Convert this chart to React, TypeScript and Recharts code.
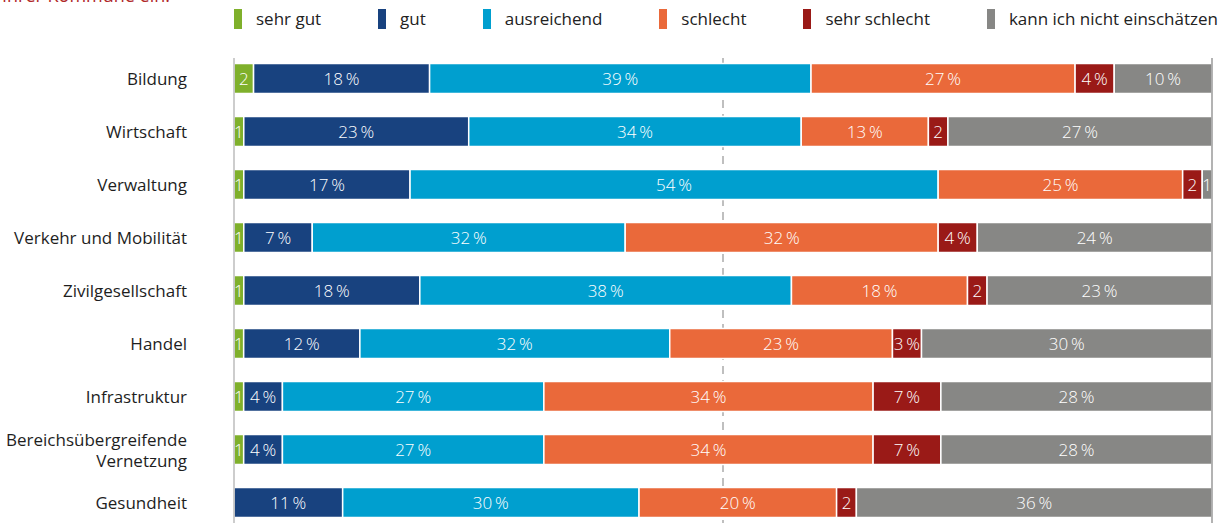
import React from "react";
import { BarChart, Bar, XAxis, YAxis, LabelList, ReferenceLine, CartesianGrid } from "recharts";

const categories = [
  "Bildung",
  "Wirtschaft",
  "Verwaltung",
  "Verkehr und Mobilität",
  "Zivilgesellschaft",
  "Handel",
  "Infrastruktur",
  "Bereichsübergreifende\nVernetzung",
  "Gesundheit",
];

const sehrGut = [2, 1, 1, 1, 1, 1, 1, 1, 0];
const gut = [18, 23, 17, 7, 18, 12, 4, 4, 11];
const ausreichend = [39, 34, 54, 32, 38, 32, 27, 27, 30];
const schlecht = [27, 13, 25, 32, 18, 23, 34, 34, 20];
const sehrSchlecht = [4, 2, 2, 4, 2, 3, 7, 7, 2];
const keineEinschaetzung = [10, 27, 1, 24, 23, 30, 28, 28, 36];

const seriesNames = ["sehr gut", "gut", "ausreichend", "schlecht", "sehr schlecht", "kann ich nicht einschätzen"];
const seriesKeys = ["sg", "g", "a", "s", "ss", "k"];
const seriesValues = [sehrGut, gut, ausreichend, schlecht, sehrSchlecht, keineEinschaetzung];
const seriesColors = ["#7fb02b", "#18427f", "#009fcf", "#ea693a", "#9a1a17", "#878785"];

const midTicks = [0.5];
const titleText = "Ihrer Kommune ein.";

const data = categories.map((c, i) => {
  const row: Record<string, string | number> = { name: c };
  seriesKeys.forEach((k, j) => {
    row[k] = seriesValues[j][i];
  });
  return row;
});

const FONT = "'Open Sans', 'Noto Sans', sans-serif";

const formatLabel = (v: any) => {
  const n = Number(v);
  if (!n) return "";
  if (n < 3) return String(n);
  return `${n}\u2009%`;
};

const CategoryTick = (props: any) => {
  const { x, y, payload } = props;
  const lines = String(payload.value).split("\n");
  const lh = 21;
  const startDy = -((lines.length - 1) * lh) / 2;
  return (
    <text
      x={x - 47}
      y={y}
      textAnchor="end"
      fill="#1e1e1e"
      fontSize={17}
      fontWeight={400}
      fontFamily={FONT}
      dominantBaseline="central"
    >
      {lines.map((l, i) => (
        <tspan key={i} x={x - 47} dy={i === 0 ? startDy : lh}>
          {l}
        </tspan>
      ))}
    </text>
  );
};

const LegendBlock = () => (
  <div
    style={{
      position: "absolute",
      top: 9,
      left: 234,
      display: "flex",
      justifyContent: "space-between",
      width: 984,
      fontFamily: FONT,
      fontSize: 17,
      fontWeight: 400,
      lineHeight: "20px",
      color: "#222",
    }}
  >
    {seriesNames.map((n, i) => (
      <div key={n} style={{ display: "flex", alignItems: "center" }}>
        <span style={{ display: "inline-block", width: 8, height: 20, background: seriesColors[i], marginRight: 14 }} />
        <span>{n}</span>
      </div>
    ))}
  </div>
);

export default function App() {
  return (
    <div
      style={{
        position: "absolute",
        left: 0,
        top: 0,
        width: 1224,
        height: 523,
        overflow: "hidden",
        background: "#fff",
      }}
    >
      <div
        style={{
          position: "absolute",
          left: 2,
          top: -15,
          fontFamily: FONT,
          fontSize: 18,
          lineHeight: "20px",
          color: "#b0282a",
          whiteSpace: "nowrap",
        }}
      >
        {titleText}
      </div>
      <LegendBlock />
      <div style={{ position: "absolute", left: 0, top: 0 }}>
        <BarChart
          width={1224}
          height={540}
          data={data}
          layout="vertical"
          stackOffset="expand"
          margin={{ top: 58, right: 12, bottom: 11.5, left: 0 }}
          barSize={30}
        >
          <CartesianGrid
            horizontal={false}
            vertical={true}
            verticalValues={midTicks}
            stroke="#aaaaaa"
            strokeWidth={1.5}
            strokeDasharray="8 6"
          />
          <XAxis type="number" hide domain={[0, 1]} ticks={midTicks} />
          <YAxis
            type="category"
            dataKey="name"
            width={234}
            tickLine={false}
            tickSize={0}
            tickMargin={0}
            axisLine={{ stroke: "#bdbdbd", strokeWidth: 1.5 }}
            tick={<CategoryTick />}
            padding={{ top: -6.5, bottom: 0 }}
            interval={0}
          />
          <ReferenceLine x={1} stroke="#9a9a9a" strokeWidth={1.5} />
          {seriesKeys.map((k, i) => (
            <Bar
              key={k}
              dataKey={k}
              name={seriesNames[i]}
              stackId="a"
              fill={seriesColors[i]}
              stroke="#ffffff"
              strokeWidth={1.5}
              isAnimationActive={false}
            >
              <LabelList
                dataKey={k}
                position="center"
                formatter={formatLabel}
                fill="#ffffff"
                fontSize={17}
                fontWeight={300}
                fontFamily={FONT}
              />
            </Bar>
          ))}
        </BarChart>
      </div>
    </div>
  );
}
